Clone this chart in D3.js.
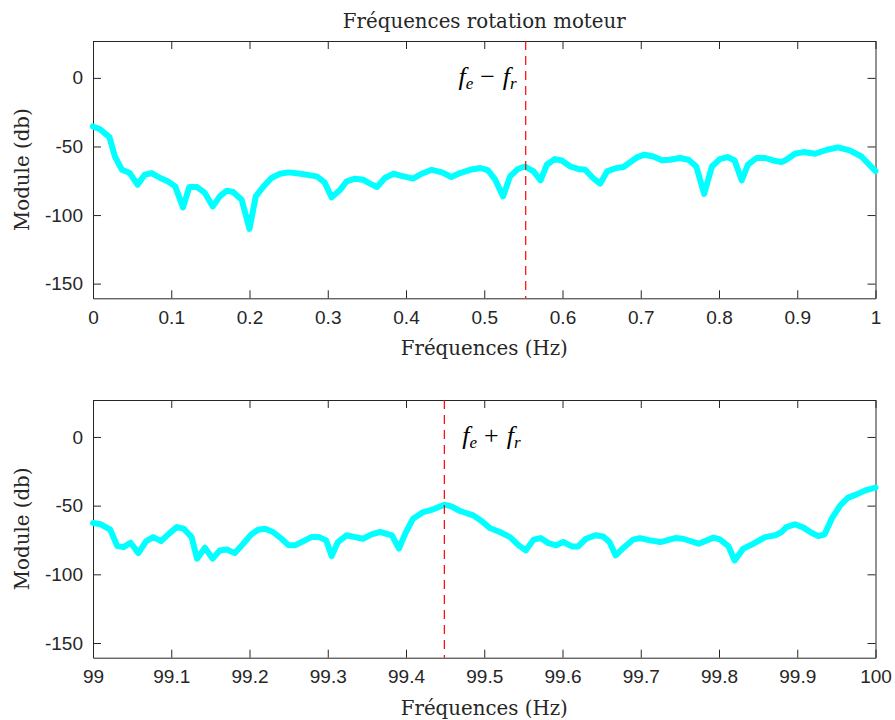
<!DOCTYPE html>
<html>
<head>
<meta charset="utf-8">
<script src="https://cdn.jsdelivr.net/npm/d3@7"></script>
<style>
  body { margin: 0; background: #fff; }
  .tick text { font-family: "Liberation Sans", Arial, sans-serif; font-size: 19px; fill: #262626; }
  .tick line { stroke: #262626; }
  .domain { stroke: #262626; }
  .lbl { font-family: "DejaVu Serif", serif; font-size: 19.8px; fill: #262626; }
  .math { font-family: "Liberation Serif", serif; fill: #000; }
</style>
</head>
<body>
<svg id="canvas" width="895" height="720"></svg>
<script>
// spectre autour de fe - fr (0..1 Hz)
let freqTop = [0.000, 0.009, 0.021, 0.028, 0.037, 0.047, 0.057, 0.066, 0.075, 0.086, 0.096, 0.105, 0.115, 0.123,
  0.133, 0.143, 0.153, 0.162, 0.171, 0.179, 0.190, 0.200, 0.208, 0.218, 0.228, 0.239, 0.250, 0.265, 0.286, 0.296,
  0.305, 0.316, 0.324, 0.335, 0.345, 0.354, 0.363, 0.373, 0.384, 0.397, 0.409, 0.420, 0.433, 0.446, 0.458, 0.469,
  0.482, 0.495, 0.505, 0.514, 0.524, 0.533, 0.543, 0.552, 0.563, 0.572, 0.580, 0.590, 0.599, 0.610, 0.620, 0.629,
  0.639, 0.648, 0.657, 0.669, 0.678, 0.695, 0.705, 0.716, 0.727, 0.737, 0.750, 0.761, 0.771, 0.781, 0.791, 0.801,
  0.811, 0.820, 0.829, 0.837, 0.848, 0.859, 0.869, 0.880, 0.886, 0.897, 0.908, 0.923, 0.938, 0.952, 0.967, 0.982, 1.000]
let modTop = [-35.4, -37.4, -43.2, -57.3, -67, -69.4, -77.9, -70.6, -69.4, -73, -75.5, -79.1, -94.4, -79.6,
  -79.6, -83.9, -93.7, -86.4, -82.2, -83.2, -88.8, -110.1, -86.4, -79.1, -73, -69.9, -68.9, -69.9, -71.8, -76.2,
  -87.1, -81.5, -75.5, -73.5, -74.2, -77.1, -79.5, -73, -69.9, -71.8, -73.5, -69.9, -67, -68.9, -72.3, -69.4,
  -67, -65.7, -67.5, -74.2, -86.4, -71.8, -66.4, -64.6, -68.2, -74.7, -63.3, -59.2, -60.2, -64.6, -66.4, -67,
  -73, -77.1, -68.2, -65.7, -65, -58, -56, -57.3, -60, -59.7, -58.4, -59.7, -64.6, -84.6, -64.6, -59.2,
  -57.7, -60.2, -74.7, -63.3, -58.4, -58.4, -60.2, -61.4, -59.7, -55.3, -54.1, -55.3, -52.4, -50.7, -52.9, -57.3, -68]

// spectre autour de fe + fr (99..100 Hz)
let freqBot = [99.000, 99.010, 99.022, 99.031, 99.039, 99.048, 99.058, 99.068, 99.077, 99.087, 99.098, 99.107,
  99.116, 99.126, 99.133, 99.143, 99.153, 99.162, 99.171, 99.181, 99.192, 99.202, 99.211, 99.220, 99.230, 99.241,
  99.250, 99.258, 99.269, 99.279, 99.289, 99.298, 99.305, 99.313, 99.324, 99.335, 99.345, 99.356, 99.367, 99.382,
  99.391, 99.399, 99.409, 99.422, 99.435, 99.449, 99.458, 99.469, 99.486, 99.497, 99.507, 99.520, 99.533, 99.544,
  99.553, 99.563, 99.572, 99.582, 99.592, 99.601, 99.612, 99.620, 99.630, 99.642, 99.652, 99.660, 99.668, 99.678,
  99.690, 99.699, 99.712, 99.725, 99.744, 99.754, 99.774, 99.793, 99.801, 99.812, 99.820, 99.831, 99.844, 99.859,
  99.872, 99.880, 99.886, 99.897, 99.908, 99.918, 99.927, 99.935, 99.944, 99.955, 99.965, 99.976, 99.987, 100.000]
let modBot = [-62.7, -63.6, -67.5, -79.4, -80.2, -77, -84.6, -75.8, -72.9, -75.8, -70, -65.6,
  -66.8, -72.9, -88.6, -80.6, -88.6, -82.6, -81.9, -84.6, -77.7, -71.1, -67.5, -66.8, -69.2, -74.1,
  -78.9, -78.9, -75.8, -72.9, -72.9, -75.3, -86.7, -76.5, -71.6, -72.9, -74.1, -70.9, -69.2, -71.6,
  -81.3, -70.4, -59.5, -54.7, -52.7, -49.3, -50.5, -53.9, -57.1, -61.4, -66.3, -69.2, -72.9, -78.9,
  -82.6, -74.8, -73.6, -77.3, -78.9, -76.5, -79.7, -79.7, -74.1, -71.6, -72.4, -76.5, -86.2, -80.6,
  -74.8, -73.6, -75.3, -76.5, -73.6, -74.1, -77.7, -73.3, -74.6, -79.4, -89.9, -81.3, -77.7, -72.9,
  -71.6, -69.2, -65.6, -63.6, -66, -69.7, -72.2, -70.9, -59.5, -49.8, -44.2, -41.8, -38.9, -36.9]

let yTicks = [-150, -100, -50, 0]
let markerTop = 0.553
let markerBot = 99.449

let svg = d3.select("#canvas")
let left = 93, right = 875.5

let drawPanel = (freqs, mods, x0, x1, top, bottom, marker, sign, textSide) => {
    let x = d3.scaleLinear().domain([x0, x1]).range([left, right])
    let y = d3.scaleLinear().domain([-160.7, 26.9]).range([bottom, top])
    let xTicks = d3.range(0, 11).map(i => x0 + i / 10)
    let fmt = d => String(+d.toFixed(2))

    let g = svg.append('g')

    g.append('g')
        .attr('transform', 'translate(0,' + bottom + ')')
        .call(d3.axisBottom(x).tickValues(xTicks).tickFormat(fmt).tickSizeInner(-8).tickSizeOuter(0).tickPadding(12))
    g.append('g')
        .attr('transform', 'translate(0,' + top + ')')
        .call(d3.axisTop(x).tickValues(xTicks).tickFormat('').tickSizeInner(-8).tickSizeOuter(0))
    g.append('g')
        .attr('transform', 'translate(' + left + ',0)')
        .call(d3.axisLeft(y).tickValues(yTicks).tickFormat(d => String(d)).tickSizeInner(-8).tickSizeOuter(0).tickPadding(10))
    g.append('g')
        .attr('transform', 'translate(' + right + ',0)')
        .call(d3.axisRight(y).tickValues(yTicks).tickFormat('').tickSizeInner(-8).tickSizeOuter(0))

    let line = d3.line()
        .x((d, i) => x(freqs[i]))
        .y(d => y(d))
    g.append('path')
        .datum(mods)
        .attr('d', line)
        .attr('fill', 'none')
        .attr('stroke', '#00ffff')
        .attr('stroke-width', 6)
        .attr('stroke-linejoin', 'round')
        .attr('stroke-linecap', 'round')

    g.append('line')
        .attr('x1', x(marker)).attr('x2', x(marker))
        .attr('y1', top).attr('y2', bottom)
        .attr('stroke', '#ff0000')
        .attr('stroke-width', 1.2)
        .attr('stroke-dasharray', '9,6')

    let t = g.append('text')
        .attr('class', 'math')
        .attr('x', textSide < 0 ? x(marker) - 9 : x(marker) + 18)
        .attr('y', y(0) + 7)
        .attr('text-anchor', textSide < 0 ? 'end' : 'start')
    t.append('tspan').attr('font-style', 'italic').attr('font-size', 26).text('f')
    t.append('tspan').attr('font-style', 'italic').attr('font-size', 17).attr('dy', 4).text('e')
    t.append('tspan').attr('font-size', 26).attr('dy', -4).attr('dx', 7).text(sign)
    t.append('tspan').attr('font-style', 'italic').attr('font-size', 26).attr('dx', 8).text('f')
    t.append('tspan').attr('font-style', 'italic').attr('font-size', 17).attr('dy', 4).text('r')

    g.append('text')
        .attr('class', 'lbl')
        .attr('x', (left + right) / 2)
        .attr('y', bottom + 57)
        .attr('text-anchor', 'middle')
        .text('Fréquences (Hz)')

    g.append('text')
        .attr('class', 'lbl')
        .attr('transform', 'translate(29,' + (top + bottom) / 2 + ') rotate(-90)')
        .attr('text-anchor', 'middle')
        .text('Module (db)')
}

drawPanel(freqTop, modTop, 0, 1, 41, 298.3, markerTop, '\u2212', -1)
drawPanel(freqBot, modBot, 99, 100, 400, 657.7, markerBot, '+', 1)

svg.append('text')
    .attr('class', 'lbl')
    .attr('x', (left + right) / 2)
    .attr('y', 28)
    .attr('text-anchor', 'middle')
    .text('Fréquences rotation moteur')
</script>
</body>
</html>
